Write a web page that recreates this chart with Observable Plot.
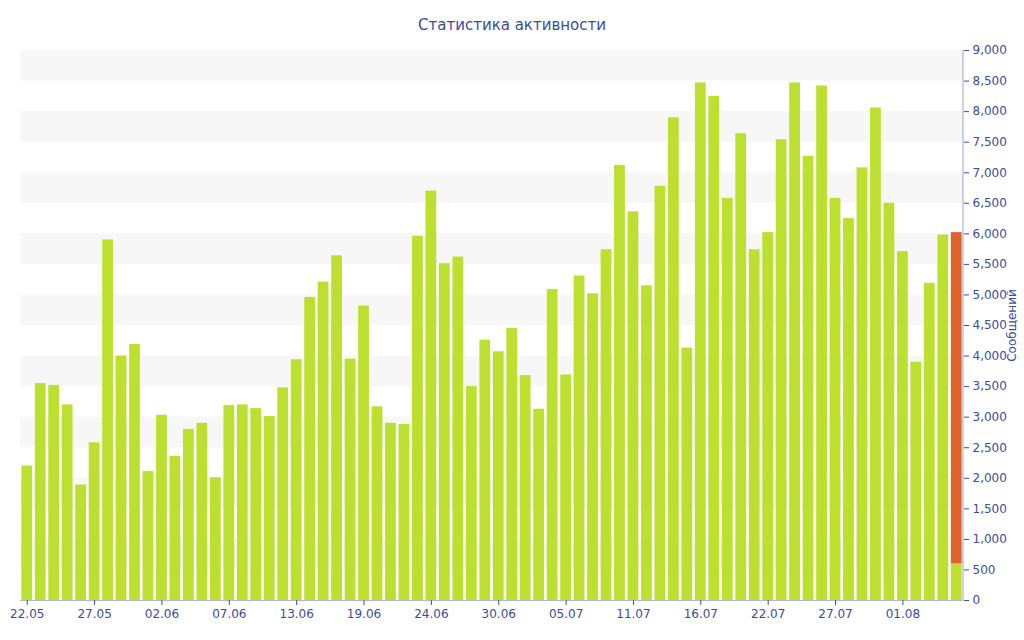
<!DOCTYPE html>
<html><head><meta charset="utf-8">
<script src="https://cdn.jsdelivr.net/npm/d3@7"></script>
<script src="https://cdn.jsdelivr.net/npm/@observablehq/plot@0.6"></script>
<style>
body{margin:0;background:#fff;font-family:"DejaVu Sans",sans-serif;}
#title{height:40px;line-height:50px;text-align:center;color:#3a4c9c;font-size:15px;}
</style></head><body>
<div id="title">Статистика активности</div>
<div id="chart"></div>
<script>
const tickLabels = ["22.05","27.05","02.06","07.06","13.06","19.06","24.06","30.06","05.07","11.07","16.07","22.07","27.07","01.08"];
const messages = [2200,3550,3520,3200,1890,2580,5900,4000,4190,2110,3030,2360,2800,2900,2010,3190,3200,3140,3010,3480,3940,4960,5210,5640,3950,4820,3170,2900,2880,5960,6700,5510,5620,3500,4260,4070,4450,3680,3130,5090,3690,5310,5020,5740,7120,6360,5150,6780,7900,4130,8470,8250,6580,7640,5740,6020,7540,8470,7270,8420,6580,6250,7080,8060,6500,5710,3900,5190,5980,600];
const lastExtra = 5420;
const bandStarts = [500,1500,2500,3500,4500,5500,6500,7500,8500];

const idx = messages.map((_, i) => i);
const rows = messages.map((v, i) => ({i, v, s: "g"}));
rows.push({i: messages.length - 1, v: lastExtra, s: "o"});
const blue = "#3a4c9c";

const chart = Plot.plot({
  width: 1024, height: 600,
  marginTop: 10, marginBottom: 40, marginLeft: 20, marginRight: 61,
  style: {fontFamily: "DejaVu Sans, sans-serif", fontSize: "12px", color: blue},
  x: {type: "band", domain: idx, padding: 0.2, paddingOuter: 0.1, label: null,
      ticks: idx.filter(i => i % 5 === 0), tickFormat: i => tickLabels[i / 5], tickSize: 0},
  y: {domain: [0, 9000], axis: null},
  color: {domain: ["g", "o"], range: ["#bde030", "#e0622a"]},
  marks: [
    Plot.rect(bandStarts, {x1: 0, x2: 1, y1: d => d, y2: d => d + 500, fill: "#f7f7f7",
      render: (index, scales, values, dims, ctx, next) => {
        const g = next(index, scales, values, dims, ctx);
        d3.select(g).selectAll("rect").attr("x", dims.marginLeft).attr("width", dims.width - dims.marginLeft - dims.marginRight);
        return g;
      }}),
    Plot.barY(rows, Plot.stackY({x: "i", y: "v", fill: "s", order: ["g", "o"]})),
    Plot.axisY({anchor: "right", ticks: d3.range(0, 9001, 500), tickSize: 5, tickFormat: d => d, label: "Сообщений", labelAnchor: "center", labelArrow: "none", labelOffset: 52, color: blue, stroke: blue}),
    Plot.ruleX([0], {x: () => 0, stroke: "none"}),
    Plot.ruleY([0], {stroke: blue, strokeOpacity: 0.4}),
    Plot.axisX({ticks: idx.filter(i => i % 5 === 0), tickFormat: i => tickLabels[i / 5], tickSize: 5, color: blue, label: null})
  ]
});
d3.select(chart).selectAll("[aria-label='y-axis tick'] path, [aria-label='y-axis tick'] line").attr("stroke", blue);
document.getElementById("chart").appendChild(chart);
// vertical right axis line
const svg = d3.select(chart);
svg.append("line").attr("x1", 963).attr("x2", 963).attr("y1", 10).attr("y2", 560).attr("stroke", blue).attr("stroke-opacity", 0.5);
</script></body></html>
